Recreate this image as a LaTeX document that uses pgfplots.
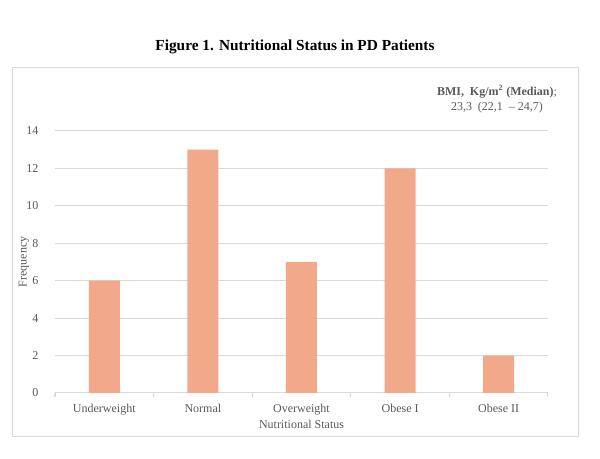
\documentclass[border=0pt]{standalone}
\usepackage{pgfplots}
\pgfplotsset{compat=1.18}
\usepackage{fontspec}
\setmainfont{Liberation Serif}
\definecolor{barc}{HTML}{F1A98A}
\definecolor{txt}{HTML}{595959}
\definecolor{gridc}{HTML}{D9D9D9}
\begin{document}
\begin{tikzpicture}[x=1pt,y=1pt]
\useasboundingbox (-41.25,-49.5) rectangle (408.75,294.75);
\draw[gridc, line width=0.75pt] (-31.5,-33) rectangle (392.25,243.75);
\begin{axis}[
  at={(0,0)}, anchor=south west,
  scale only axis, width=369.75pt, height=196.5pt,
  xmin=-0.5, xmax=4.5, ymin=0, ymax=14,
  ytick={0,2,...,14},
  xtick={0,1,2,3,4},
  xticklabels={Underweight,Normal,Overweight,Obese I,Obese II},
  minor xtick={-0.5,0.5,1.5,2.5,3.5,4.5},
  axis x line*=bottom, axis y line*=left,
  x axis line style={gridc, line width=0.75pt, -},
  y axis line style={draw=none},
  ymajorgrids, grid style={gridc, line width=0.75pt},
  major tick length=0pt, minor tick length=3pt,
  tick align=outside,
  minor x tick style={gridc, line width=0.75pt},
  tick label style={font=\fontsize{9}{10}\selectfont, text=txt},
  /pgf/number format/assume math mode=true,
  yticklabel style={xshift=-9pt},
  xticklabel style={yshift=-4.5pt},
  xlabel={Nutritional Status}, ylabel={Frequency},
  label style={font=\fontsize{9}{10}\selectfont, text=txt},
  xlabel style={yshift=2.5pt},
  ylabel style={yshift=-9pt},
  clip=false,
]
\addplot[ybar, bar width=23.25pt, fill=barc, draw=none] coordinates {(0,6) (1,13) (2,7) (3,12) (4,2)};
\end{axis}
\node[font=\bfseries\fontsize{11.5}{13}\selectfont] at (180,259.5) {Figure 1. Nutritional Status in PD Patients};
\node[font=\fontsize{9}{10}\selectfont, text=txt] at (331.5,225.75) {\textbf{BMI,\ \ Kg/m\textsuperscript{2} (Median)};};
\node[font=\fontsize{9}{10}\selectfont, text=txt] at (331.5,213.75) {23,3\ \ (22,1\ \ -- 24,7)};
\end{tikzpicture}
\end{document}
